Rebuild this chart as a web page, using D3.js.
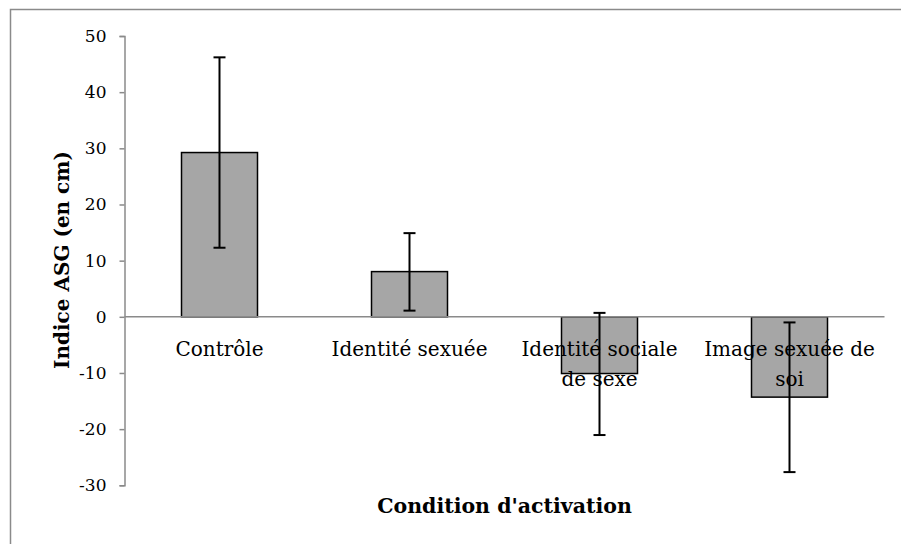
<!DOCTYPE html>
<html><head><meta charset="utf-8">
<script src="https://cdnjs.cloudflare.com/ajax/libs/d3/7.8.5/d3.min.js"></script>
<style>html,body{margin:0;padding:0;background:#fff;}svg{display:block;}</style>
</head><body>
<svg id="chart" width="901" height="544"></svg>
<script>
const categories = ["Contrôle", "Identité sexuée", "Identité sociale de sexe", "Image sexuée de soi"];
const categoryLines = [["Contrôle"], ["Identité sexuée"], ["Identité sociale", "de sexe"], ["Image sexuée de", "soi"]];
const values = [29.25, 8.05, -10.1, -14.3];
const errLow = [12.3, 1.1, -21.05, -1.0];
const errHigh = [46.2, 14.9, 0.7, -27.65];
const yTicks = [-30, -20, -10, 0, 10, 20, 30, 40, 50];
const yLabel = "Indice ASG (en cm)";
const xLabel = "Condition d'activation";

const svg = d3.select("#chart");
const font = "'DejaVu Serif', serif";

// outer frame
svg.append("rect").attr("x", 10.5).attr("y", 9.5).attr("width", 900).attr("height", 540)
  .attr("fill", "none").attr("stroke", "#8a8a8a").attr("stroke-width", 1.5);

const y = d3.scaleLinear().domain([-30, 50]).range([485.3, 36]);
const x = d3.scaleBand().domain(categories).range([124.5, 884.5]).paddingInner(0.6).paddingOuter(0.3);

// bars
svg.append("g").selectAll("rect").data(categories).join("rect")
  .attr("x", d => x(d))
  .attr("width", x.bandwidth())
  .attr("y", (d, i) => y(Math.max(0, values[i])))
  .attr("height", (d, i) => Math.abs(y(values[i]) - y(0)))
  .attr("fill", "#a6a6a6").attr("stroke", "#000").attr("stroke-width", 1.5);

// y axis
const yAxis = svg.append("g").attr("transform", "translate(124.5,0)")
  .call(d3.axisLeft(y).tickValues(yTicks).tickSize(5).tickPadding(13).tickFormat(d => String(d)));
yAxis.select(".domain").attr("stroke", "#8a8a8a").attr("stroke-width", 1.5);
yAxis.selectAll(".tick line").attr("stroke", "#8a8a8a").attr("stroke-width", 1.5);
yAxis.selectAll(".tick text").attr("font-family", font).attr("font-size", 17).attr("fill", "#000");

// zero line
svg.append("line").attr("x1", 124.5).attr("x2", 884.5).attr("y1", y(0)).attr("y2", y(0))
  .attr("stroke", "#8a8a8a").attr("stroke-width", 1.5);

// error bars
const eb = svg.append("g").attr("stroke", "#000").attr("stroke-width", 2);
categories.forEach((c, i) => {
  const cx = x(c) + x.bandwidth() / 2;
  eb.append("line").attr("x1", cx).attr("x2", cx).attr("y1", y(errLow[i])).attr("y2", y(errHigh[i]));
  [errLow[i], errHigh[i]].forEach(v => {
    eb.append("line").attr("x1", cx - 6).attr("x2", cx + 6).attr("y1", y(v)).attr("y2", y(v));
  });
});

// category labels
categories.forEach((c, i) => {
  const cx = x(c) + x.bandwidth() / 2;
  const t = svg.append("text").attr("text-anchor", "middle").attr("font-family", font)
    .attr("font-size", 20).attr("fill", "#000");
  categoryLines[i].forEach((line, j) => {
    t.append("tspan").attr("x", cx).attr("y", 356 + j * 30).text(line);
  });
});

// axis titles
svg.append("text").attr("transform", "translate(69,260) rotate(-90)")
  .attr("text-anchor", "middle").attr("font-family", font).attr("font-weight", "bold")
  .attr("font-size", 20).attr("fill", "#000").text(yLabel);
svg.append("text").attr("x", 504.5).attr("y", 513)
  .attr("text-anchor", "middle").attr("font-family", font).attr("font-weight", "bold")
  .attr("font-size", 20.5).attr("fill", "#000").text(xLabel);
</script>
</body></html>
